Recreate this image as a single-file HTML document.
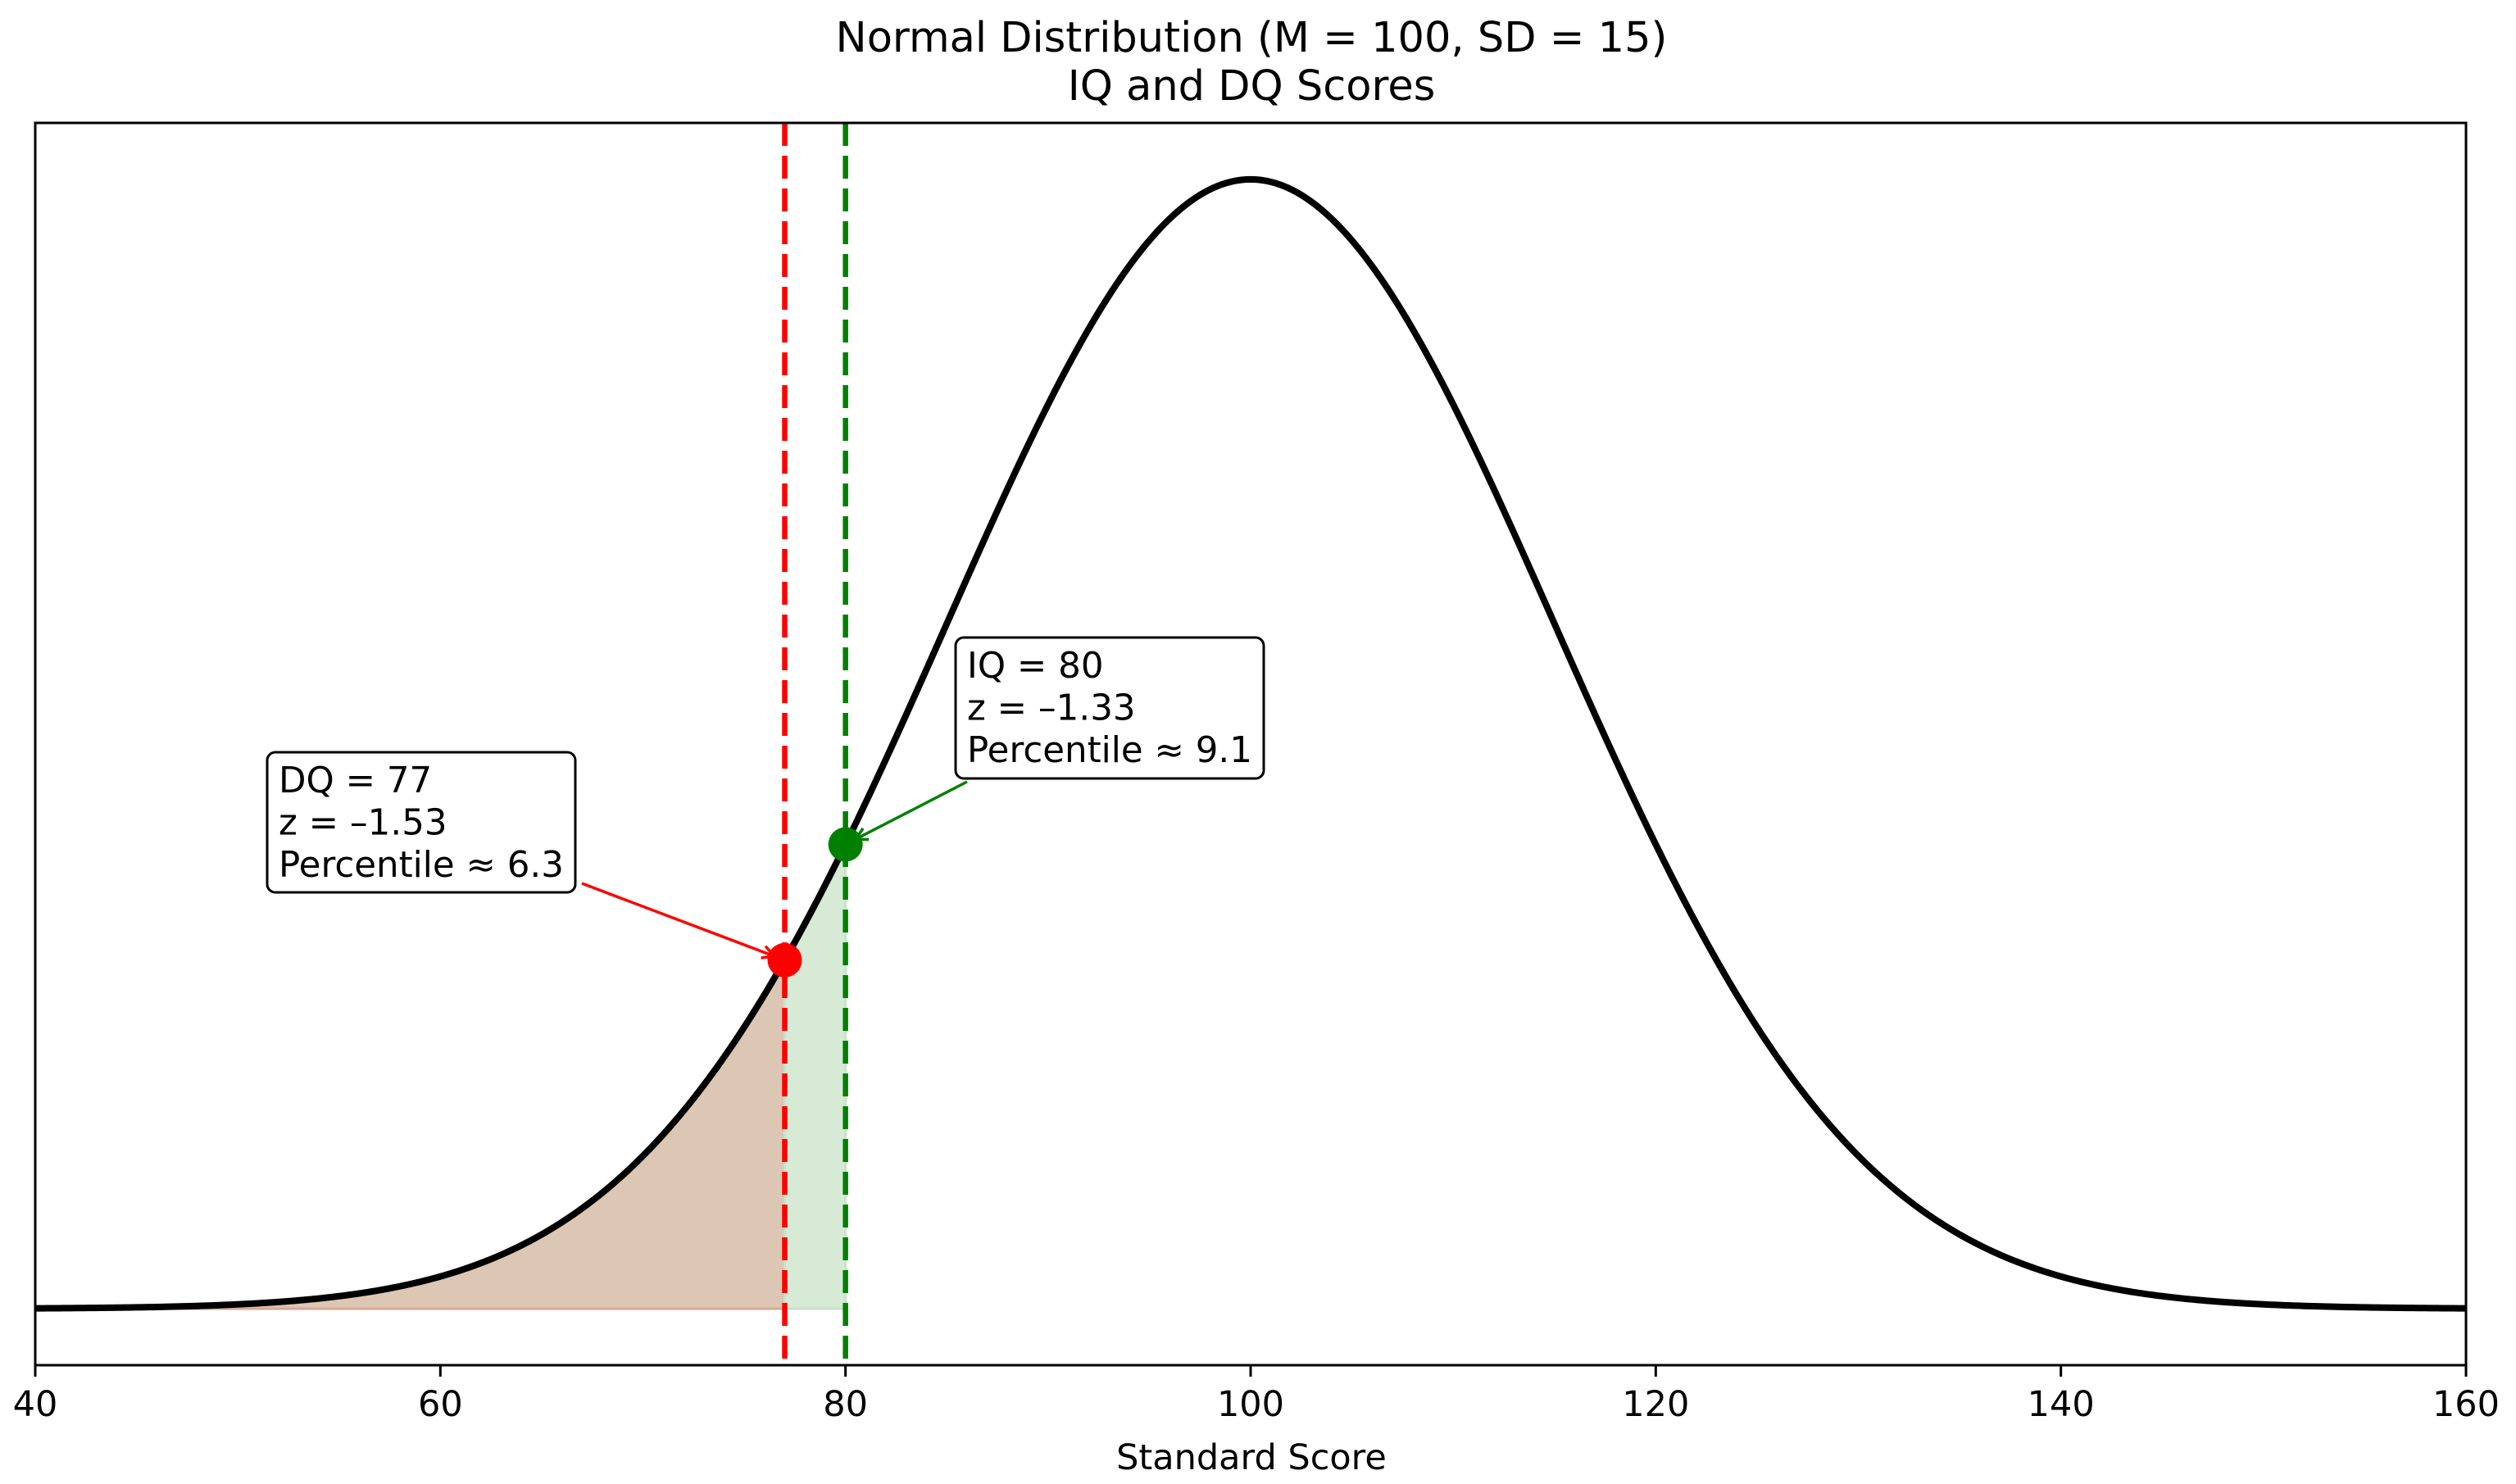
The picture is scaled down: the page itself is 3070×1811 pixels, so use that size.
<!DOCTYPE html>
<html><head><meta charset="utf-8">
<style>
html,body{margin:0;padding:0;background:#fff;}
svg{display:block;font-family:"DejaVu Sans","Liberation Sans",sans-serif;}
</style></head>
<body>
<svg id="chart" width="3070" height="1811" viewBox="0 0 3070 1811" xmlns="http://www.w3.org/2000/svg">
<rect width="3070" height="1811" fill="#fff"/>
<text x="1527" y="63" font-size="51" text-anchor="middle">Normal Distribution (M = 100, SD = 15)</text>
<text x="1527" y="122" font-size="51" text-anchor="middle">IQ and DQ Scores</text>
<g id="plot"></g>
<text x="1527" y="1793" font-size="43" text-anchor="middle">Standard Score</text>
</svg>
<script>
const xTicks = [40, 60, 80, 100, 120, 140, 160];
const distMean = [100];
const distSD = [15];
const scoreNames = ["DQ", "IQ"];
const scoreValues = [77, 80];
const zValues = ["–1.53", "–1.33"];
const percentiles = ["6.3", "9.1"];
const scoreColors = ["#ff0000", "#008000"];

const L = 43, R = 3009, T = 150, B = 1666;
const xMin = 40, xMax = 160;
const mu = distMean[0], sd = distSD[0];
const pdf = x => Math.exp(-0.5 * ((x - mu) / sd) ** 2) / (sd * Math.sqrt(2 * Math.PI));
const peak = pdf(mu);
const yMin = -0.05 * peak, yMax = 1.05 * peak;
const sx = v => L + (v - xMin) / (xMax - xMin) * (R - L);
const sy = v => B - (v - yMin) / (yMax - yMin) * (B - T);
const NS = "http://www.w3.org/2000/svg";
const g = document.getElementById('plot');
function mk(tag, attrs, parent) {
  const e = document.createElementNS(NS, tag);
  for (const k in attrs) e.setAttribute(k, attrs[k]);
  (parent || g).appendChild(e);
  return e;
}
function areaPath(a, b) {
  let d = `M${sx(a)},${sy(0)}`;
  for (let x = a; x <= b + 1e-9; x += 0.1) d += `L${sx(x)},${sy(pdf(x))}`;
  d += `L${sx(b)},${sy(pdf(b))}L${sx(b)},${sy(0)}Z`;
  return d;
}
let e = mk('path', {d: areaPath(xMin, scoreValues[0]), fill: 'rgb(220,198,180)', stroke: 'rgb(214,170,150)', 'stroke-width': 3});


e = mk('path', {d: areaPath(scoreValues[0], scoreValues[1]), fill: 'rgb(214,234,214)', stroke: 'rgb(200,228,200)', 'stroke-width': 3});


let d = '';
for (let x = xMin; x <= xMax + 1e-9; x += 0.2) d += (d ? 'L' : 'M') + sx(x) + ',' + sy(pdf(x));
e = mk('path', {d: d, fill: 'none', stroke: '#000', 'stroke-width': 8, 'stroke-linejoin': 'round'});


scoreValues.forEach((v, i) => {
  const l = mk('line', {x1: sx(v), x2: sx(v), y1: T, y2: B, stroke: scoreColors[i], 'stroke-width': 6.5, 'stroke-dasharray': '28,12'});
  
  
});
e = mk('rect', {x: L, y: T, width: R - L, height: B - T, fill: 'none', stroke: '#000', 'stroke-width': 3});


xTicks.forEach(t => {
  const tk = mk('line', {x1: sx(t), x2: sx(t), y1: B, y2: B + 14, stroke: '#000', 'stroke-width': 3});
  
  
  const tl = mk('text', {x: sx(t), y: B + 62, 'font-size': 43, 'text-anchor': 'middle'});
  tl.textContent = t;
  
  
});
const boxes = [{x: 326, y: 918, w: 376, h: 171}, {x: 1166, y: 778, w: 376, h: 172}];
const arrowStart = [[710, 1078], [1180, 954]];
scoreValues.forEach((v, i) => {
  const px = sx(v), py = sy(pdf(v));
  const [ax, ay] = arrowStart[i];
  const ang = Math.atan2(py - ay, px - ax);
  const ex = px - Math.cos(ang) * 14, ey = py - Math.sin(ang) * 14;
  const ar = mk('line', {x1: ax, y1: ay, x2: ex, y2: ey, stroke: scoreColors[i], 'stroke-width': 3.5});
  
  
  const h = 16;
  const hp = mk('path', {d: `M${ex - h*Math.cos(ang-0.5)},${ey - h*Math.sin(ang-0.5)}L${ex},${ey}L${ex - h*Math.cos(ang+0.5)},${ey - h*Math.sin(ang+0.5)}`, fill: 'none', stroke: scoreColors[i], 'stroke-width': 3.5});
  
  
  const c = mk('circle', {cx: px, cy: py, r: 21, fill: scoreColors[i]});
  
  
  const b = boxes[i];
  const r = mk('rect', {x: b.x, y: b.y, width: b.w, height: b.h, rx: 10, fill: '#fff', stroke: '#000', 'stroke-width': 3});
  
  
  const lines = [`${scoreNames[i]} = ${v}`, `z = ${zValues[i]}`, `Percentile ≈ ${percentiles[i]}`];
  lines.forEach((s, j) => {
    const t = mk('text', {x: b.x + 14, y: b.y + 49 + j * 51.5, 'font-size': 43.5});
    t.textContent = s;
    
    
  });
});
</script>
</body></html>
